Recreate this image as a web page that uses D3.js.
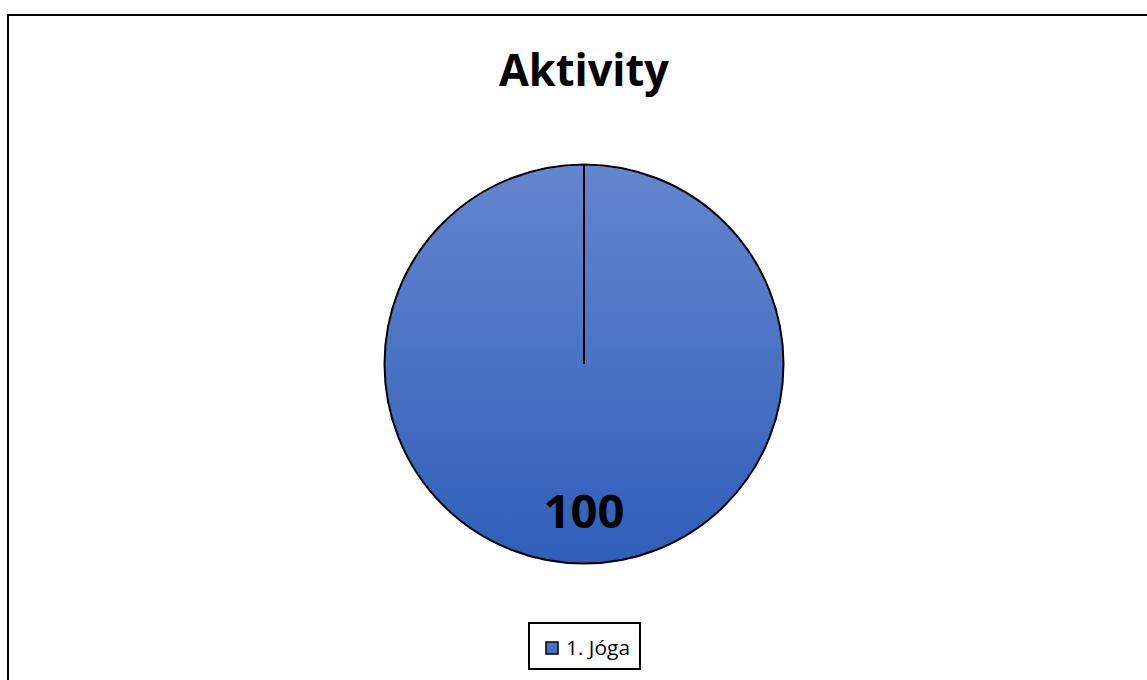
<!DOCTYPE html>
<html><head><meta charset="utf-8">
<script src="https://cdn.jsdelivr.net/npm/d3@7"></script>
<style>body{margin:0;background:#fff}svg{display:block}</style>
</head><body>
<svg id="c" width="1147" height="680"></svg>
<script>
const title = "Aktivity";
const categories = ["1. Jóga"];
const values = [100];

const svg = d3.select("#c");
const W = 1147, H = 680;
const font = "'Open Sans', sans-serif";

// chart border
svg.append("rect").attr("x", 8).attr("y", 15).attr("width", W + 10).attr("height", H + 10)
  .attr("fill", "#fff").attr("stroke", "#000").attr("stroke-width", 2);

const defs = svg.append("defs");
const grad = defs.append("linearGradient").attr("id", "g").attr("x1", 0).attr("y1", 0).attr("x2", 0).attr("y2", 1);
grad.append("stop").attr("offset", "0%").attr("stop-color", "#6585cd");
grad.append("stop").attr("offset", "100%").attr("stop-color", "#2e5fba");

svg.append("text").attr("x", 584).attr("y", 86).attr("text-anchor", "middle")
  .attr("font-family", font).attr("font-weight", "bold").attr("font-size", 45)
  .attr("textLength", 170).attr("lengthAdjust", "spacingAndGlyphs").text(title);

const cx = 584, cy = 364, r = 199.5;
const pie = d3.pie().sort(null)(values);
const arc = d3.arc().innerRadius(0).outerRadius(r);
const g = svg.append("g").attr("transform", `translate(${cx},${cy})`);
g.selectAll("path").data(pie).join("path").attr("d", arc)
  .attr("fill", "url(#g)").attr("stroke", "#000").attr("stroke-width", 2);
// radial divider at the slice start
g.selectAll("line.sep").data(pie).join("line").attr("class", "sep")
  .attr("x1", 0).attr("y1", 0)
  .attr("x2", d => r * Math.sin(d.startAngle)).attr("y2", d => -r * Math.cos(d.startAngle))
  .attr("stroke", "#000").attr("stroke-width", 2);

g.selectAll("text.lbl").data(pie).join("text").attr("class", "lbl")
  .attr("x", 0).attr("y", 164).attr("text-anchor", "middle")
  .attr("font-family", font).attr("font-weight", "bold").attr("font-size", 46)
  .attr("textLength", 81).attr("lengthAdjust", "spacingAndGlyphs")
  .text(d => d.data);

// legend
const lg = svg.append("g");
lg.append("rect").attr("x", 529).attr("y", 623).attr("width", 111).attr("height", 46)
  .attr("fill", "#fff").attr("stroke", "#000").attr("stroke-width", 2);
categories.forEach((c, i) => {
  lg.append("rect").attr("x", 546).attr("y", 642).attr("width", 12).attr("height", 12)
    .attr("fill", "#4472c4").attr("stroke", "#000").attr("stroke-width", 1.5);
  lg.append("text").attr("x", 566).attr("y", 655).attr("font-family", font)
    .attr("font-size", 20).attr("textLength", 64).attr("lengthAdjust", "spacingAndGlyphs").text(c);
});
</script>
</body></html>
